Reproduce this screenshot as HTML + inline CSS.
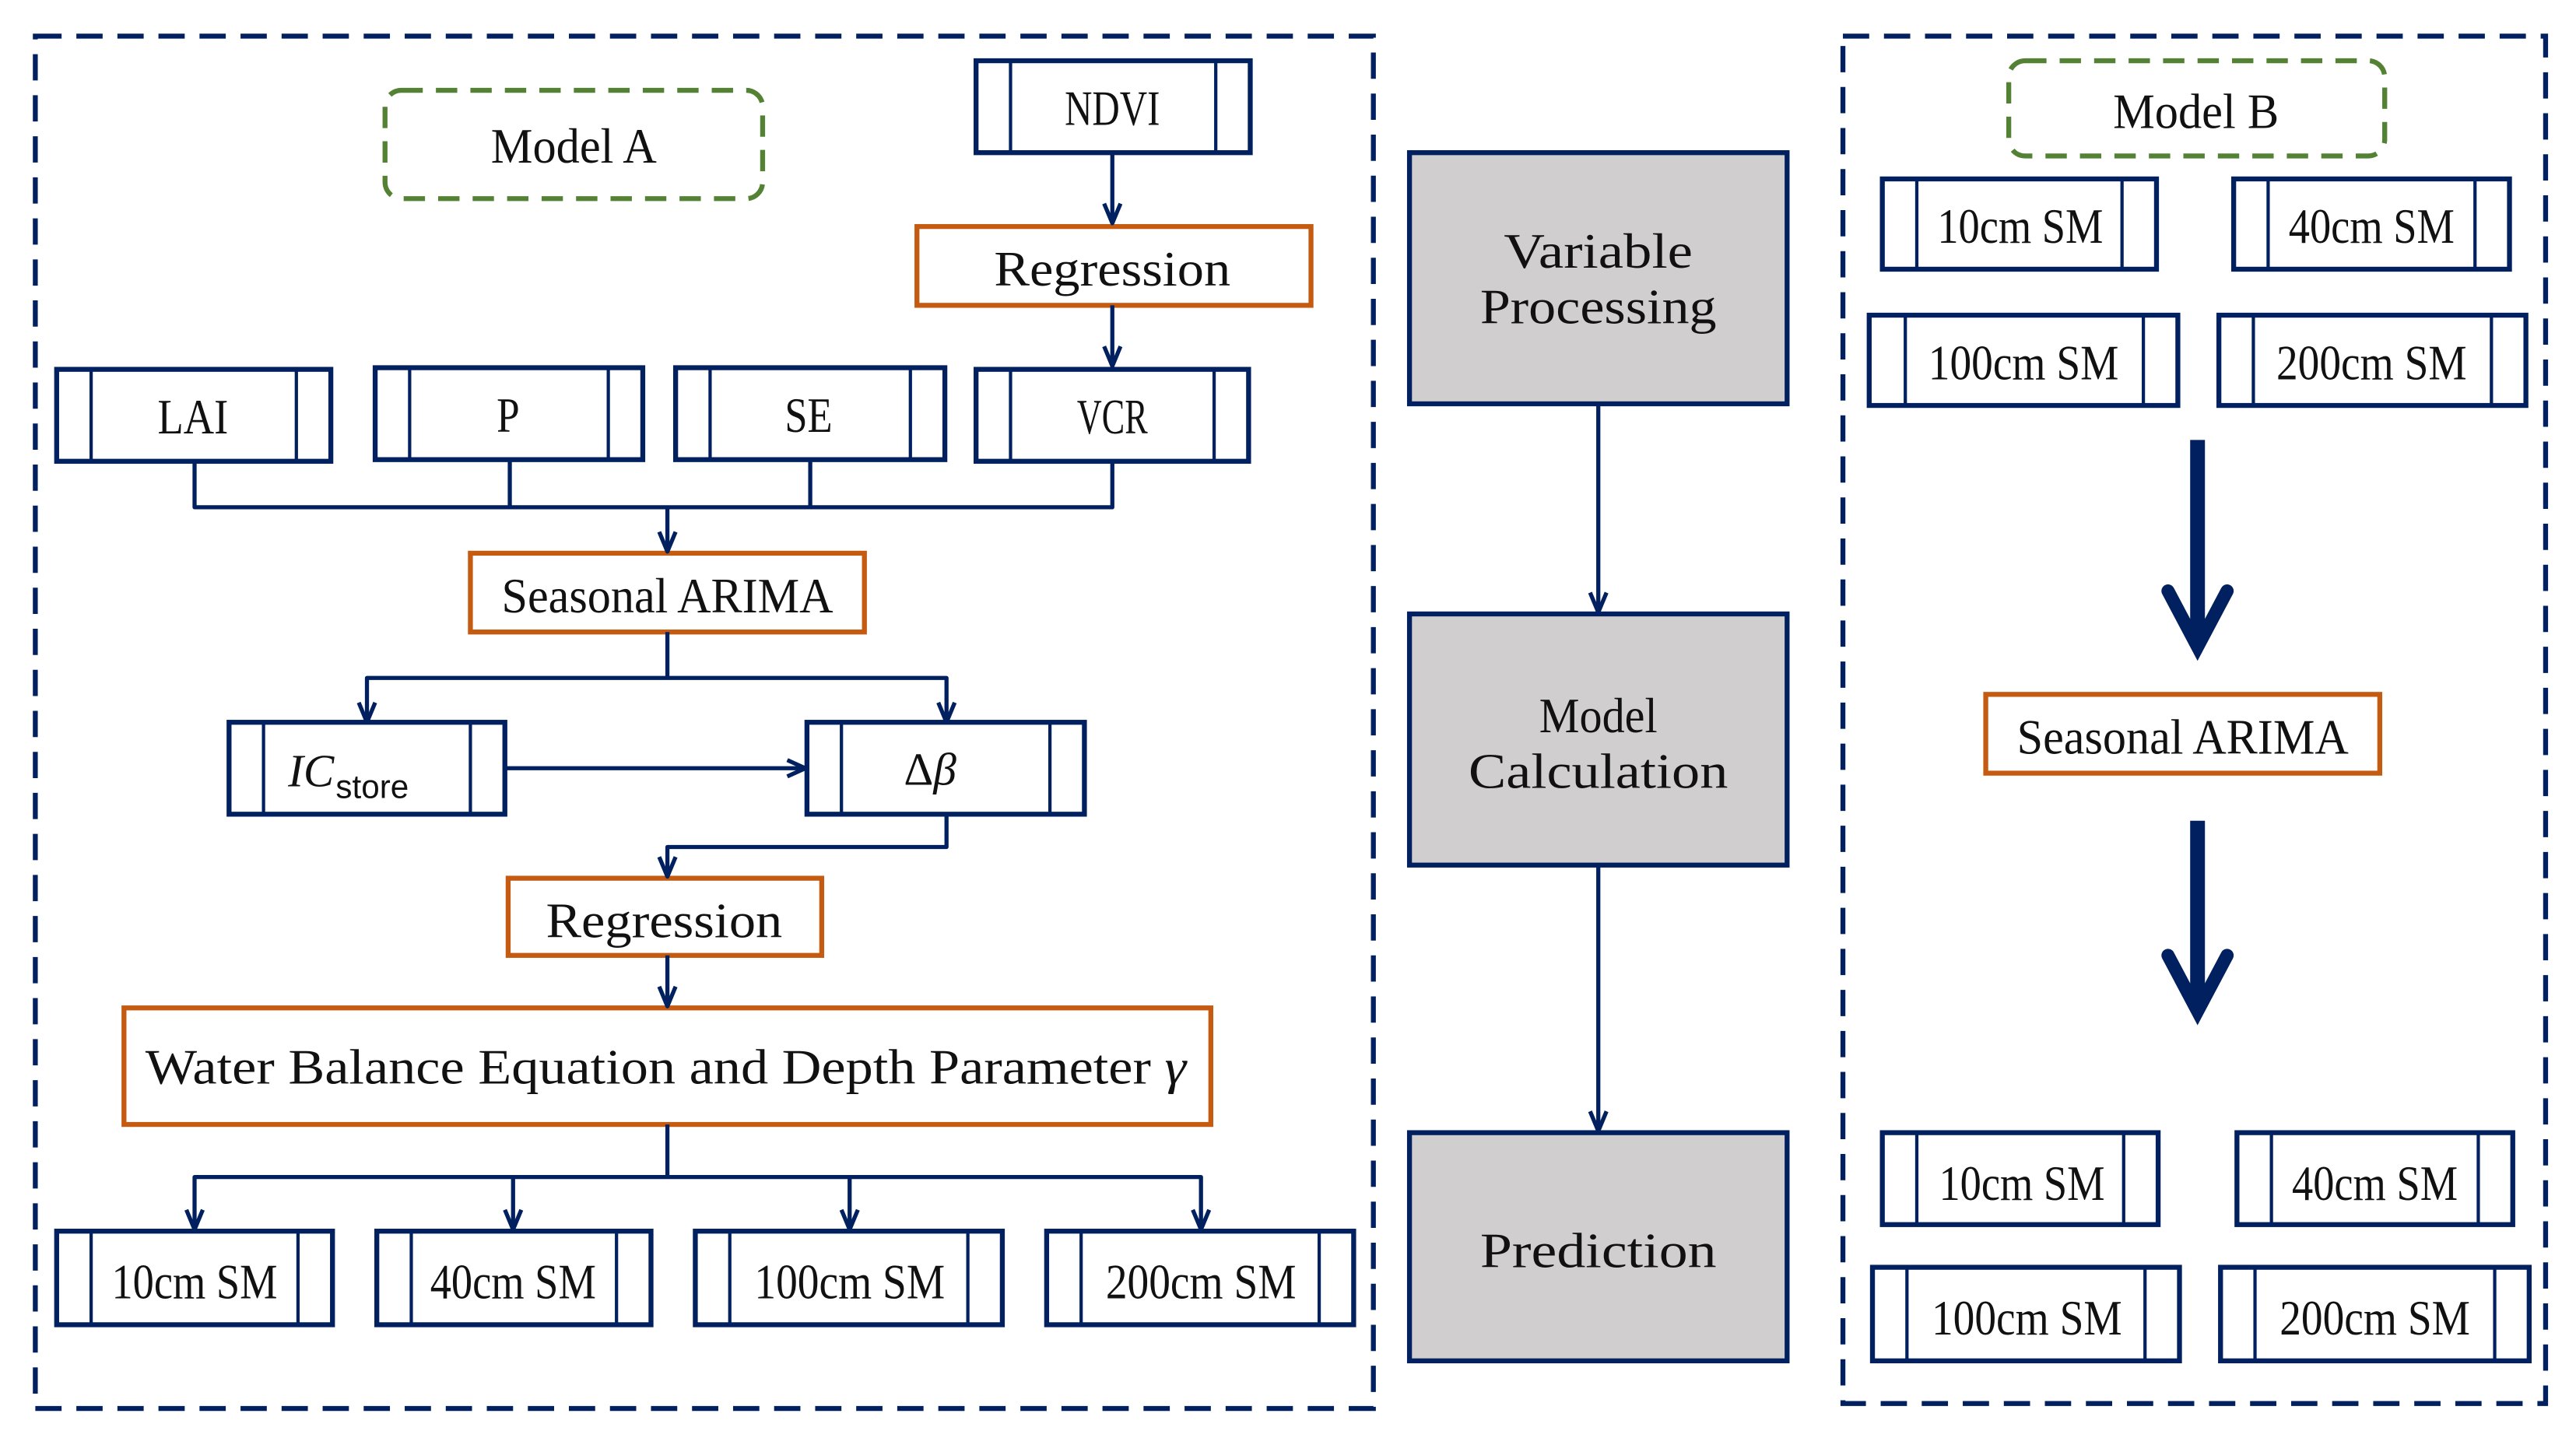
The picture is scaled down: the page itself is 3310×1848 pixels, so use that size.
<!DOCTYPE html>
<html><head><meta charset="utf-8"><style>
html,body{margin:0;padding:0;background:#fff;}
svg{display:block;}
text{font-family:"Liberation Serif","Noto Serif CJK SC",serif;font-size:30px;fill:#111;}
</style></head><body>
<svg width="3310" height="1848" viewBox="0 0 1568 876" xmlns="http://www.w3.org/2000/svg">
<rect x="0" y="0" width="1568" height="876" fill="#fff"/>
<rect x="21" y="22" width="815" height="836" fill="none" stroke="#00205f" stroke-width="3" stroke-dasharray="16 9"/>
<rect x="1122" y="22" width="428" height="833" fill="none" stroke="#00205f" stroke-width="3" stroke-dasharray="16 9"/>
<rect x="234" y="55" width="230" height="66" rx="10" fill="none" stroke="#548235" stroke-width="3" stroke-dasharray="13 8"/>
<text x="349" y="99" text-anchor="middle" textLength="101" lengthAdjust="spacingAndGlyphs">Model A</text>
<rect x="1223" y="37" width="229" height="58" rx="10" fill="none" stroke="#548235" stroke-width="3" stroke-dasharray="13 8"/>
<text x="1337" y="78" text-anchor="middle" textLength="101" lengthAdjust="spacingAndGlyphs">Model B</text>

<g fill="none" stroke="#00205f">
<g stroke-width="3">
<rect x="594" y="37" width="167" height="56"/>
<rect x="34" y="225" width="167" height="56"/>
<rect x="228" y="224" width="163" height="56"/>
<rect x="411" y="224" width="164" height="56"/>
<rect x="594" y="225" width="166" height="56"/>
<rect x="139" y="440" width="168" height="56"/>
<rect x="491" y="440" width="169" height="56"/>
<rect x="34" y="750" width="168" height="57"/>
<rect x="229" y="750" width="167" height="57"/>
<rect x="423" y="750" width="187" height="57"/>
<rect x="637" y="750" width="187" height="57"/>
<rect x="1146" y="109" width="167" height="55"/>
<rect x="1360" y="109" width="168" height="55"/>
<rect x="1138" y="192" width="188" height="55"/>
<rect x="1351" y="192" width="187" height="55"/>
<rect x="1146" y="690" width="168" height="56"/>
<rect x="1362" y="690" width="168" height="56"/>
<rect x="1140" y="772" width="187" height="57"/>
<rect x="1352" y="772" width="188" height="57"/>
</g>
<g stroke-width="2">
<path d="M615 37V93M740 37V93"/>
<path d="M55 225V281M180 225V281"/>
<path d="M249 224V280M370 224V280"/>
<path d="M432 224V280M554 224V280"/>
<path d="M615 225V281M739 225V281"/>
<path d="M160 440V496M286 440V496"/>
<path d="M512 440V496M639 440V496"/>
<path d="M55 750V807M181 750V807"/>
<path d="M250 750V807M375 750V807"/>
<path d="M444 750V807M589 750V807"/>
<path d="M658 750V807M803 750V807"/>
<path d="M1167 109V164M1292 109V164"/>
<path d="M1381 109V164M1507 109V164"/>
<path d="M1160 192V247M1305 192V247"/>
<path d="M1372 192V247M1517 192V247"/>
<path d="M1167 690V746M1293 690V746"/>
<path d="M1383 690V746M1509 690V746"/>
<path d="M1161 772V829M1306 772V829"/>
<path d="M1373 772V829M1519 772V829"/>
</g>
</g>
<g fill="none" stroke="#c55a11" stroke-width="3">
<rect x="558" y="138" width="240" height="48"/>
<rect x="286" y="337" width="240" height="48"/>
<rect x="309" y="535" width="191" height="47"/>
<rect x="75" y="614" width="662" height="71"/>
<rect x="1209" y="423" width="240" height="48"/>
</g>
<g fill="#d0cece" stroke="#00205f" stroke-width="3">
<rect x="858" y="93" width="230" height="153"/>
<rect x="858" y="374" width="230" height="153"/>
<rect x="858" y="690" width="230" height="139"/>
</g>
<g fill="none" stroke="#00205f" stroke-width="2.5" stroke-linejoin="round">
<path d="M677 93V136M118 281V309H677V281M310 280V309M493 280V309M406 309V336"/>
<path d="M677 186V223"/>
<path d="M406 385V413M223 440V413H576V440"/>
<path d="M307 468H490"/>
<path d="M576 496V516H406V534"/>
<path d="M406 582V613"/>
<path d="M406 685V717M118 749V717H731V749M312 717V749M517 717V749"/>
<path d="M973 246V373M973 527V689"/>
<path d="M672 124L677 136L682 124M672 211L677 223L682 211M401 324L406 336L411 324"/>
<path d="M218 428L223 440L228 428M571 428L576 440L581 428M479 463L490 468L479 473"/>
<path d="M401 522L406 534L411 522M401 601L406 613L411 601"/>
<path d="M113 737L118 749L123 737M307 737L312 749L317 737M512 737L517 749L522 737M726 737L731 749L736 737"/>
<path d="M968 361L973 373L978 361M968 677L973 689L978 677"/>
</g>
<g fill="none" stroke="#00205f" stroke-linecap="round">
<path d="M1338 268V392" stroke-width="9" stroke-linecap="butt"/>
<path d="M1320 360L1338 394L1356 360" stroke-width="8" stroke-linejoin="miter"/>
<path d="M1338 500V616" stroke-width="9" stroke-linecap="butt"/>
<path d="M1320 582L1338 616L1356 582" stroke-width="8" stroke-linejoin="miter"/>
</g>
<g text-anchor="middle">
<text x="677" y="76" textLength="58" lengthAdjust="spacingAndGlyphs">NDVI</text>
<text x="677" y="174" textLength="144" lengthAdjust="spacingAndGlyphs">Regression</text>
<text x="117" y="264" textLength="43" lengthAdjust="spacingAndGlyphs">LAI</text>
<text x="309" y="263" textLength="14" lengthAdjust="spacingAndGlyphs">P</text>
<text x="492" y="263" textLength="29" lengthAdjust="spacingAndGlyphs">SE</text>
<text x="677" y="264" textLength="43" lengthAdjust="spacingAndGlyphs">VCR</text>
<text x="406" y="373" textLength="202" lengthAdjust="spacingAndGlyphs">Seasonal ARIMA</text>
<text x="404" y="571" textLength="144" lengthAdjust="spacingAndGlyphs">Regression</text>
<text x="405" y="660" textLength="634" lengthAdjust="spacingAndGlyphs">Water Balance Equation and Depth Parameter <tspan style="font-style:italic">γ</tspan></text>
<text x="118" y="791" textLength="101" lengthAdjust="spacingAndGlyphs">10cm SM</text>
<text x="312" y="791" textLength="101" lengthAdjust="spacingAndGlyphs">40cm SM</text>
<text x="517" y="791" textLength="116" lengthAdjust="spacingAndGlyphs">100cm SM</text>
<text x="731" y="791" textLength="116" lengthAdjust="spacingAndGlyphs">200cm SM</text>
<text x="973" y="163" textLength="115" lengthAdjust="spacingAndGlyphs">Variable</text>
<text x="973" y="197" textLength="144" lengthAdjust="spacingAndGlyphs">Processing</text>
<text x="973" y="446" textLength="72" lengthAdjust="spacingAndGlyphs">Model</text>
<text x="973" y="480" textLength="158" lengthAdjust="spacingAndGlyphs">Calculation</text>
<text x="973" y="772" textLength="144" lengthAdjust="spacingAndGlyphs">Prediction</text>
<text x="1230" y="148" textLength="101" lengthAdjust="spacingAndGlyphs">10cm SM</text>
<text x="1444" y="148" textLength="101" lengthAdjust="spacingAndGlyphs">40cm SM</text>
<text x="1232" y="231" textLength="116" lengthAdjust="spacingAndGlyphs">100cm SM</text>
<text x="1444" y="231" textLength="116" lengthAdjust="spacingAndGlyphs">200cm SM</text>
<text x="1329" y="459" textLength="202" lengthAdjust="spacingAndGlyphs">Seasonal ARIMA</text>
<text x="1231" y="731" textLength="101" lengthAdjust="spacingAndGlyphs">10cm SM</text>
<text x="1446" y="731" textLength="101" lengthAdjust="spacingAndGlyphs">40cm SM</text>
<text x="1234" y="813" textLength="116" lengthAdjust="spacingAndGlyphs">100cm SM</text>
<text x="1446" y="813" textLength="116" lengthAdjust="spacingAndGlyphs">200cm SM</text>
</g>
<text x="175" y="479" style="font-family:'Liberation Serif',serif;font-style:italic;font-size:28px">IC</text>
<text x="204" y="486" style="font-family:'Liberation Sans',sans-serif;font-size:20px">store</text>
<text x="550" y="478" style="font-family:'Liberation Serif',serif;font-size:28px">Δ<tspan style="font-style:italic">β</tspan></text>
</svg>
</body></html>
